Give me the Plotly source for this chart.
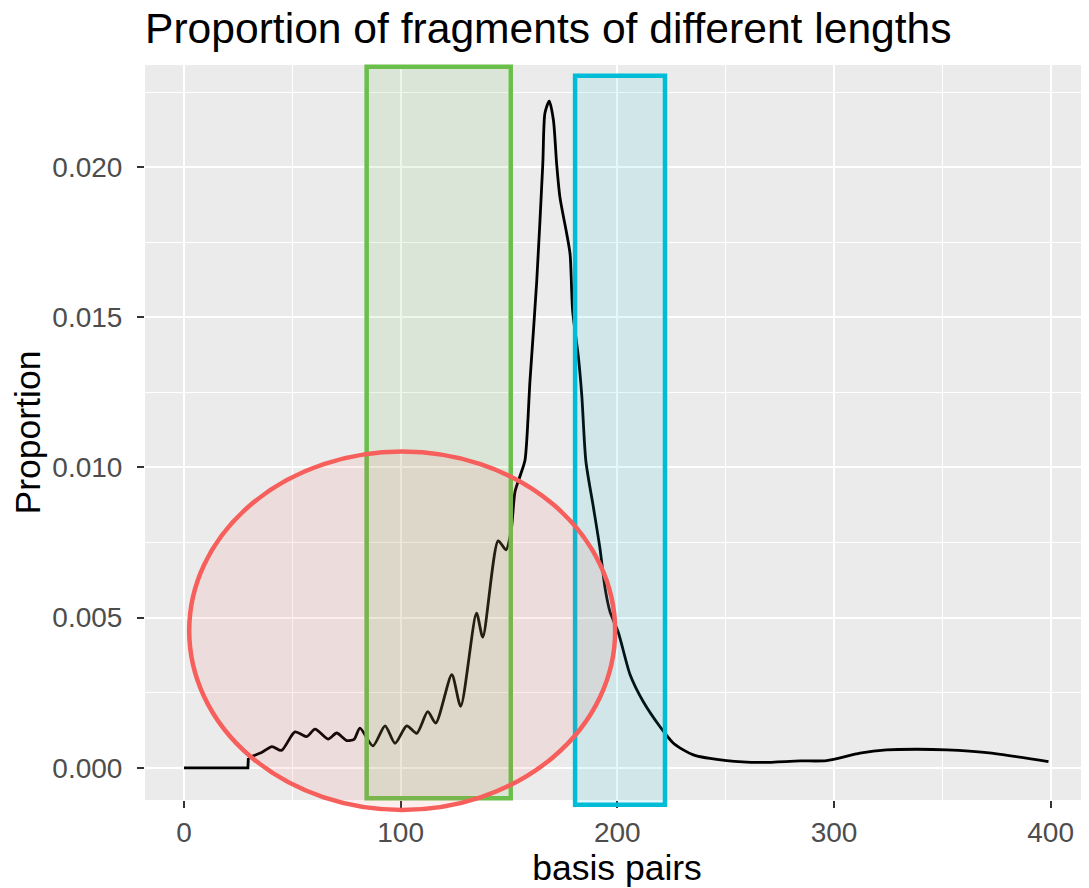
import plotly.graph_objects as go

# --- data ---
# flat start (drawn straight, step at ~30 bp)
bp_start = [0, 15, 29.5, 29.7]
prop_start = [0, 0, 0, 0.00033]

# rest of the curve (smoothed)
bp = [29.7, 32, 36, 40.6, 45, 51.2, 56.6, 60.5, 66.5, 70.5, 75.1, 78.5, 81.2,
      87.2, 92.8, 97.4, 102.8, 107.4, 112.5, 116.2, 123.6, 127.7, 135, 137.9, 145, 148.6,
      151, 152.8, 155.5, 157.4, 159.7, 162.8, 165.6, 166.6, 168.6, 170.5, 172, 173.5,
      176.6, 178.2, 179.4, 182, 183.6, 185.5, 188.9, 192, 194.3, 196.6, 200.5, 205.9, 212,
      219.7, 225.9, 235.1, 250.5, 266, 284.3, 296.6, 312, 324.3, 338.2, 352, 370.5, 399]
proportion = [0.00033, 0.0004, 0.00052, 0.00071, 0.00058, 0.0012, 0.00104, 0.00129,
              0.00096, 0.00116, 0.00091, 0.00095, 0.00132, 0.00073, 0.0014, 0.00082, 0.0014,
              0.00115, 0.00187, 0.00149, 0.0031, 0.00205, 0.00515, 0.00435, 0.00756, 0.00726,
              0.0079, 0.0092, 0.0098, 0.01025, 0.0129, 0.0162, 0.0201, 0.0218, 0.0222, 0.02157,
              0.0201, 0.0190, 0.0178, 0.0171, 0.0152, 0.0137, 0.0124, 0.0102, 0.0087, 0.0073,
              0.0060, 0.0052, 0.0045, 0.0031, 0.0022, 0.00137, 0.00082, 0.00043, 0.00024,
              0.00018, 0.00023, 0.00024, 0.00049, 0.0006, 0.00062, 0.0006, 0.00051, 0.00021]

x_ticks = [0, 100, 200, 300, 400]
y_ticks = [0, 0.005, 0.010, 0.015, 0.020]
y_ticktext = ["0.000", "0.005", "0.010", "0.015", "0.020"]

X_RANGE = [-18, 417.7]
Y_RANGE = [-0.00107, 0.0234]

# the page body has an 8px margin, so the figure is 8px smaller than the window
W, H = 1081, 880


def ypaper(v):
    # data value -> paper fraction (so shapes may run past the panel edge)
    return (v - Y_RANGE[0]) / (Y_RANGE[1] - Y_RANGE[0])


fig = go.Figure()
fig.add_trace(go.Scatter(
    x=bp_start, y=prop_start, mode="lines",
    line=dict(color="black", width=2.8), hoverinfo="skip"
))
fig.add_trace(go.Scatter(
    x=bp, y=proportion, mode="lines",
    line=dict(color="black", width=2.8, shape="spline", smoothing=0.7),
    hoverinfo="skip"
))

# highlighted regions
fig.add_shape(type="rect", xref="x", yref="paper",
              x0=84.3, x1=150.8, y0=ypaper(-0.00101), y1=ypaper(0.02334),
              line=dict(color="#6abf4b", width=4.5),
              fillcolor="rgba(106,191,75,0.12)", layer="above")
fig.add_shape(type="rect", xref="x", yref="paper",
              x0=180.5, x1=222, y0=ypaper(-0.00123), y1=ypaper(0.02304),
              line=dict(color="#00bcd6", width=4.5),
              fillcolor="rgba(0,190,214,0.11)", layer="above")
fig.add_shape(type="circle", xref="x", yref="paper",
              x0=2.4, x1=199, y0=ypaper(-0.0014), y1=ypaper(0.01053),
              line=dict(color="#f65f5b", width=4.5),
              fillcolor="rgba(246,95,91,0.10)", layer="above")

FONT = "Liberation Sans, Arial, sans-serif"

fig.update_layout(
    width=W, height=H,
    margin=dict(l=137, r=0, t=57, b=88, autoexpand=False),
    paper_bgcolor="white", plot_bgcolor="#ebebeb",
    showlegend=False,
    font=dict(family=FONT, color="black"),
    title=dict(text="Proportion of fragments of different lengths",
               x=0, xref="paper", xanchor="left",
               y=1 - 20 / H, yref="container", yanchor="middle",
               font=dict(size=42.6, family=FONT, color="black")),
)

fig.update_xaxes(
    range=X_RANGE, tickvals=x_ticks, ticks="outside", ticklen=7, tickwidth=2,
    tickcolor="#333333", tickfont=dict(size=28, color="#4d4d4d", family=FONT),
    showgrid=True, gridcolor="white", gridwidth=2, zeroline=False, showline=False,
    minor=dict(tick0=0, dtick=50, showgrid=True, gridcolor="white", gridwidth=1),
    automargin=False,
    title=dict(text="basis pairs", font=dict(size=35.5, family=FONT, color="black"), standoff=4),
)
fig.update_yaxes(
    range=Y_RANGE, tickvals=y_ticks, ticktext=y_ticktext, ticks="outside", ticklen=7,
    tickwidth=2, tickcolor="#333333", tickfont=dict(size=28, color="#4d4d4d", family=FONT),
    ticklabelstandoff=9,
    showgrid=True, gridcolor="white", gridwidth=2, zeroline=False, showline=False,
    minor=dict(tick0=0, dtick=0.0025, showgrid=True, gridcolor="white", gridwidth=1),
    automargin=False,
    title=dict(text="Proportion", font=dict(size=35.5, family=FONT, color="black"), standoff=10),
)

fig.write_html("out.html")
